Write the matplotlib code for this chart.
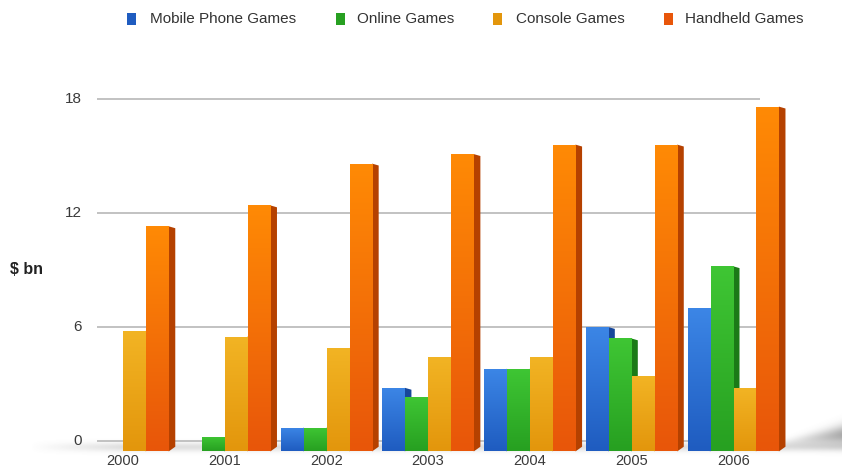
import numpy as np
import matplotlib.pyplot as plt
from matplotlib.colors import to_rgb
from matplotlib.patches import Rectangle, Polygon

# --- Sales of games software, $ bn ---
years = ['2000', '2001', '2002', '2003', '2004', '2005', '2006']
series_names = ['Mobile Phone Games', 'Online Games', 'Console Games', 'Handheld Games']
mobile = [0, 0, 0.7, 2.8, 3.8, 6.0, 7.0]
online = [0, 0.2, 0.7, 2.3, 3.8, 5.4, 9.2]
console = [5.8, 5.5, 4.9, 4.4, 4.4, 3.4, 2.8]
handheld = [11.3, 12.4, 14.6, 15.1, 15.6, 15.6, 17.6]
y_ticks = [0, 6, 12, 18]

# --- Styling ---
# (top colour, bottom colour, side colour) for each series
COLOURS = [
    ('#3c86e6', '#1f5cc0', '#17479a'),
    ('#3fc634', '#27a021', '#1b7a17'),
    ('#f2b424', '#e3960c', '#b57405'),
    ('#ff8a05', '#e8560a', '#b54100'),
]
W, H = 842, 472
X0, GROUP_PX = 123, 101.7      # pixel of first group centre, spacing between groups
Y0, UNIT_PX = 441, 19.0        # pixel of the zero line, pixels per $1bn
STEP = 0.226                   # distance between bars in a group
FRONT = 0.22                   # width of a bar's front face
SIDE = 0.065                   # width of the shaded side face
FLOOR = -0.55                  # bars sit on a floor just in front of the back wall


def px(xp):
    return (xp - X0) / GROUP_PX


def py(yp):
    return (Y0 - yp) / UNIT_PX


fig = plt.figure(figsize=(W / 100, H / 100), dpi=100)
ax = fig.add_axes([0, 0, 1, 1])
ax.set_axis_off()
xlim = (px(0), px(W))
ylim = (py(H), py(0))

# soft floor shadow under the bars, fanning out at the right end
xs = np.arange(W) + 0.5
ys = np.arange(H) + 0.5
gx, gy = np.meshgrid(xs, ys)
band = np.exp(-((gy - 447) / 4.5) ** 2) * np.clip((gx - 30) / 90, 0, 1) * 0.22
dx = np.clip(gx - 770, 0, None)
wedge_c = 445 - dx * 0.14
wedge_h = 2.5 + dx * 0.1
wedge = np.exp(-((gy - wedge_c) / wedge_h) ** 2) * np.clip(dx / 72, 0, 1) ** 1.3 * 0.6
alpha = np.clip(band + wedge, 0, 0.6)
shadow = np.zeros((H, W, 4))
shadow[..., :3] = 0.45
shadow[..., 3] = alpha
ax.imshow(shadow, extent=[xlim[0], xlim[1], ylim[0], ylim[1]],
          origin='upper', aspect='auto', zorder=0, interpolation='bilinear')

# horizontal gridlines on the back wall
for t in y_ticks:
    ax.plot([px(97), px(760)], [t, t], color='#bdbdbd', lw=1.3, zorder=1,
            solid_capstyle='butt')
    ax.text(px(82), t, str(t), ha='right', va='center', fontsize=11,
            color='#3a3a3a', family='Liberation Sans')

ax.text(px(10), py(270), '$ bn', ha='left', va='center', fontsize=11.5,
        fontweight='bold', color='#222222', family='Liberation Sans')

# bars: shaded front face plus a darker side face
data = [mobile, online, console, handheld]
x = np.arange(len(years))
grad = np.linspace(0, 1, 64)[:, None, None]
for k, (values, (c_top, c_bot, c_side)) in enumerate(zip(data, COLOURS)):
    centres = x + (k - 1.5) * STEP
    img = np.array(to_rgb(c_top)) * (1 - grad) + np.array(to_rgb(c_bot)) * grad
    img = img.repeat(4, axis=1)
    for c, v in zip(centres, values):
        if v <= 0:
            continue
        left = c - FRONT / 2
        z = 2 + k
        side = Polygon([(left + FRONT, FLOOR), (left + FRONT + SIDE, FLOOR + 0.25),
                        (left + FRONT + SIDE, v - 0.1), (left + FRONT, v)],
                       closed=True, facecolor=c_side, edgecolor='none', zorder=z)
        ax.add_patch(side)
        front = Rectangle((left, FLOOR), FRONT, v - FLOOR, facecolor=c_bot,
                          edgecolor='none', zorder=z)
        ax.add_patch(front)
        im = ax.imshow(img, extent=[left, left + FRONT, FLOOR, v], origin='upper',
                       aspect='auto', zorder=z + 0.1, interpolation='bilinear')
        im.set_clip_path(front)

# year labels under each group
for i, yr in enumerate(years):
    ax.text(i, py(461), yr, ha='center', va='center', fontsize=10.5,
            color='#3a3a3a', family='Liberation Sans')

# legend across the top
legend_sq = [127, 336, 493, 664]
legend_tx = [150, 357, 516, 685]
for name, (c_top, c_bot, _), sx, tx in zip(series_names, COLOURS, legend_sq, legend_tx):
    ax.add_patch(Rectangle((px(sx), py(25)), 9 / GROUP_PX, 12 / UNIT_PX,
                           facecolor=c_bot, edgecolor='none', zorder=3))
    ax.text(px(tx), py(19), name, ha='left', va='center', fontsize=11,
            color='#333333', family='Liberation Sans')

ax.set_xlim(*xlim)
ax.set_ylim(*ylim)
fig.savefig('out.png', dpi=100)
